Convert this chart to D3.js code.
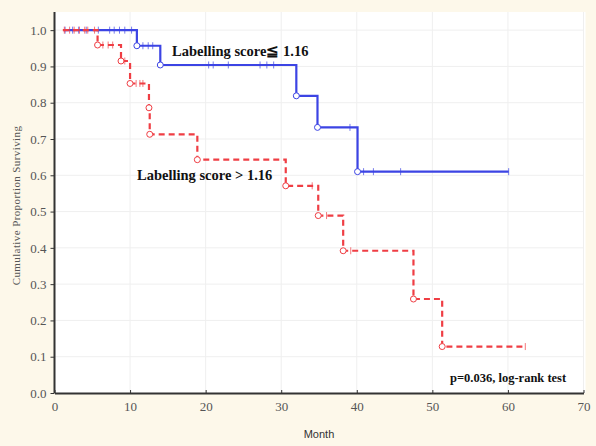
<!DOCTYPE html>
<html lang="en">
<head>
    <meta charset="UTF-8">
    <title>Survival by labelling score</title>
    <style>
        body { margin: 0; background: #fdf8ea; }
    </style>
</head>
<body></body>
<script src="https://cdn.jsdelivr.net/npm/d3@7"></script>
<script>
    // axis ticks
    const monthTicks = [0, 10, 20, 30, 40, 50, 60, 70];
    const survivalTicks = [0, 0.1, 0.2, 0.3, 0.4, 0.5, 0.6, 0.7, 0.8, 0.9, 1.0];

    // Labelling score <= 1.16 (blue, solid)
    const lowStart = 1.2;
    const lowEventMonths = [10.9, 14.0, 32.0, 34.8, 40.1];
    const lowSurvival = [0.957, 0.904, 0.819, 0.732, 0.610];
    const lowCensorMonths = [1.4, 2.4, 3.2, 4.2, 5.8, 7.3, 7.9, 8.6, 9.3, 10.2,
        11.7, 12.4, 13.0, 20.4, 21.0, 23.0, 27.2, 28.1, 29.0, 39.1, 40.9, 42.2, 45.8, 60.1];

    // Labelling score > 1.16 (red, dashed)
    const highStart = 1.1;
    const highEventMonths = [5.7, 8.8, 10.0, 12.5, 12.6, 18.9, 30.6, 34.9, 38.2, 47.5, 51.3];
    const highSurvival = [0.959, 0.915, 0.853, 0.786, 0.713, 0.643, 0.571, 0.489, 0.392, 0.259, 0.128];
    const highCensorMonths = [1.3, 2.0, 2.6, 3.3, 4.0, 4.4, 5.3, 6.4, 7.1, 7.7, 9.3,
        10.8, 11.3, 11.7, 34.1, 36.0, 39.2, 62.3];

    const width = 596;
    const height = 446;

    const svg = d3.select("body")
        .append("svg")
        .attr("width", width)
        .attr("height", height)
        .style("display", "block");

    const x = d3.scaleLinear().domain([0, 70]).range([54.5, 583.5]);
    const y = d3.scaleLinear().domain([0, 1.05]).range([393, 12]);

    // plot area
    svg.append("rect")
        .attr("x", x(0)).attr("y", y(1.05))
        .attr("width", x(70) - x(0) + 2).attr("height", y(0) - y(1.05))
        .attr("fill", "#ffffff");

    // grid
    svg.append("g").selectAll("line")
        .data(monthTicks.slice(1))
        .join("line")
        .attr("x1", d => x(d)).attr("x2", d => x(d))
        .attr("y1", y(1.05)).attr("y2", y(0))
        .attr("stroke", "#efefef").attr("stroke-width", 1);
    svg.append("g").selectAll("line")
        .data(survivalTicks.slice(1))
        .join("line")
        .attr("x1", x(0)).attr("x2", x(70))
        .attr("y1", d => y(d)).attr("y2", d => y(d))
        .attr("stroke", "#efefef").attr("stroke-width", 1);

    // axes
    const xAxis = svg.append("g")
        .attr("transform", `translate(0,${y(0)})`)
        .call(d3.axisBottom(x).tickValues(monthTicks).tickSize(-3).tickPadding(9).tickSizeOuter(0));
    const yAxis = svg.append("g")
        .attr("transform", `translate(${x(0)},0)`)
        .call(d3.axisLeft(y).tickValues(survivalTicks).tickFormat(d3.format(".1f")).tickSize(4).tickPadding(4).tickSizeOuter(0));

    [xAxis, yAxis].forEach(g => {
        g.select(".domain").attr("stroke", "#333").attr("stroke-width", 2);
        g.selectAll(".tick line").attr("stroke", "#333");
        g.selectAll(".tick text")
            .attr("font-family", "'Liberation Serif', 'Times New Roman', serif")
            .attr("font-size", 13)
            .attr("fill", "#555");
    });
    yAxis.select(".domain").attr("d", `M0,${y(1.05)}V${y(0)}`);

    svg.append("text")
        .attr("x", (x(0) + x(70)) / 2)
        .attr("y", 438)
        .attr("text-anchor", "middle")
        .attr("font-family", "'Liberation Sans', Arial, sans-serif")
        .attr("font-size", 11)
        .attr("fill", "#333")
        .text("Month");

    svg.append("text")
        .attr("transform", `translate(20,${(y(0) + y(1.05)) / 2 + 3}) rotate(-90)`)
        .attr("text-anchor", "middle")
        .attr("font-family", "'Liberation Serif', 'Times New Roman', serif")
        .attr("font-size", 11)
        .attr("letter-spacing", 0.4)
        .attr("fill", "#555")
        .text("Cumulative Proportion Surviving");

    function steps(start, times, surv, end) {
        const pts = [[start, 1]];
        times.forEach((t, i) => pts.push([t, surv[i]]));
        pts.push([end, surv[surv.length - 1]]);
        return pts;
    }
    function survAt(t, times, surv) {
        let s = 1;
        times.forEach((e, i) => { if (e <= t) s = surv[i]; });
        return s;
    }

    const line = d3.line()
        .x(d => x(d[0]))
        .y(d => y(d[1]))
        .curve(d3.curveStepAfter);

    const groups = [
        {start: lowStart, times: lowEventMonths, surv: lowSurvival, cens: lowCensorMonths, color: "#3c44e4", dash: null},
        {start: highStart, times: highEventMonths, surv: highSurvival, cens: highCensorMonths, color: "#ef3e44", dash: "6,4"}
    ];

    groups.forEach(g => {
        const end = d3.max(g.cens);
        const layer = svg.append("g");
        layer.append("path")
            .attr("d", line(steps(g.start, g.times, g.surv, end)))
            .attr("fill", "none")
            .attr("stroke", g.color)
            .attr("stroke-width", 2.2)
            .attr("stroke-dasharray", g.dash);

        layer.selectAll("line.cens")
            .data(g.cens)
            .join("line")
            .attr("class", "cens")
            .attr("x1", d => x(d)).attr("x2", d => x(d))
            .attr("y1", d => y(survAt(d, g.times, g.surv)) - 3.5)
            .attr("y2", d => y(survAt(d, g.times, g.surv)) + 3.5)
            .attr("stroke", g.color)
            .attr("stroke-opacity", 0.7)
            .attr("stroke-width", 1);

        layer.selectAll("circle")
            .data(g.times.map((t, i) => [t, g.surv[i]]))
            .join("circle")
            .attr("cx", d => x(d[0]))
            .attr("cy", d => y(d[1]))
            .attr("r", 3)
            .attr("fill", "#fff")
            .attr("stroke", g.color)
            .attr("stroke-width", 1);
    });

    const bold = "'Liberation Serif', 'Times New Roman', serif";
    svg.append("text")
        .attr("x", 172).attr("y", 56)
        .attr("font-family", bold).attr("font-weight", "bold")
        .attr("font-size", 14.5).attr("fill", "#111")
        .text("Labelling score≦ 1.16");
    svg.append("text")
        .attr("x", 137).attr("y", 180)
        .attr("font-family", bold).attr("font-weight", "bold")
        .attr("font-size", 14.5).attr("fill", "#111")
        .text("Labelling score > 1.16");
    svg.append("text")
        .attr("x", 450).attr("y", 382)
        .attr("font-family", bold).attr("font-weight", "bold")
        .attr("font-size", 12.5).attr("fill", "#111")
        .text("p=0.036, log-rank test");
</script>
</html>
